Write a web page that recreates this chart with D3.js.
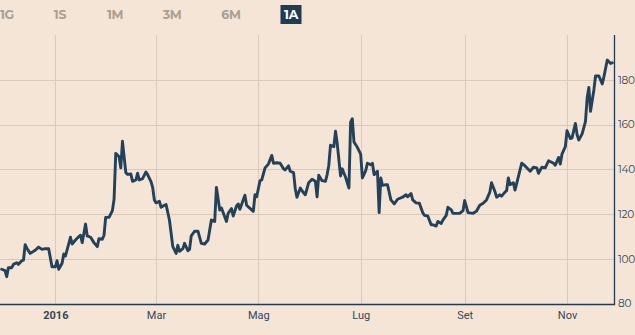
<!DOCTYPE html>
<html>
<head>
<meta charset="utf-8">
<script src="https://cdn.jsdelivr.net/npm/d3@7"></script>
<style>
  html, body { margin: 0; padding: 0; background: #f5e5d6; overflow: hidden; }
  svg { display: block; }
</style>
</head>
<body>
<svg id="chart" width="635" height="335"></svg>
<script>
// Range buttons shown above the chart; the last one is the active range.
const rangeLabels = ["1G", "1S", "1M", "3M", "6M", "1A"];
const activeRange = "1A";

// Price series over the one-year window.
const dates = [
  "2015-11-30","2015-12-02","2015-12-03","2015-12-04","2015-12-06","2015-12-07","2015-12-09","2015-12-10",
  "2015-12-12","2015-12-13","2015-12-14","2015-12-15","2015-12-17","2015-12-20","2015-12-22","2015-12-24",
  "2015-12-26","2015-12-28","2015-12-30","2016-01-01","2016-01-02","2016-01-03","2016-01-05","2016-01-06",
  "2016-01-07","2016-01-10","2016-01-11","2016-01-13","2016-01-15","2016-01-16","2016-01-17","2016-01-19",
  "2016-01-20","2016-01-22","2016-01-24","2016-01-26","2016-01-27","2016-01-29","2016-01-30","2016-01-31",
  "2016-02-02","2016-02-04","2016-02-05","2016-02-06","2016-02-08","2016-02-09","2016-02-10","2016-02-12",
  "2016-02-13","2016-02-15","2016-02-16","2016-02-18","2016-02-19","2016-02-20","2016-02-22","2016-02-24",
  "2016-02-25","2016-02-27","2016-02-28","2016-02-29","2016-03-01","2016-03-03","2016-03-04","2016-03-06",
  "2016-03-07","2016-03-09","2016-03-10","2016-03-11","2016-03-13","2016-03-14","2016-03-15","2016-03-17",
  "2016-03-18","2016-03-20","2016-03-21","2016-03-22","2016-03-24","2016-03-26","2016-03-28","2016-03-30",
  "2016-04-01","2016-04-03","2016-04-05","2016-04-06","2016-04-08","2016-04-09","2016-04-12","2016-04-13",
  "2016-04-15","2016-04-16","2016-04-18","2016-04-19","2016-04-20","2016-04-23","2016-04-24","2016-04-28",
  "2016-04-29","2016-04-30","2016-05-02","2016-05-03","2016-05-05","2016-05-07","2016-05-09","2016-05-10",
  "2016-05-12","2016-05-14","2016-05-16","2016-05-17","2016-05-19","2016-05-20","2016-05-22","2016-05-23",
  "2016-05-24","2016-05-26","2016-05-27","2016-05-29","2016-05-31","2016-06-02","2016-06-04","2016-06-05",
  "2016-06-06","2016-06-08","2016-06-10","2016-06-11","2016-06-12","2016-06-13","2016-06-15","2016-06-16",
  "2016-06-17","2016-06-19","2016-06-20","2016-06-22","2016-06-24","2016-06-25","2016-06-26","2016-06-27",
  "2016-06-29","2016-07-01","2016-07-02","2016-07-04","2016-07-05","2016-07-07","2016-07-08","2016-07-09",
  "2016-07-11","2016-07-12","2016-07-13","2016-07-14","2016-07-16","2016-07-17","2016-07-19","2016-07-21",
  "2016-07-23","2016-07-26","2016-07-28","2016-07-29","2016-07-31","2016-08-01","2016-08-03","2016-08-05",
  "2016-08-07","2016-08-08","2016-08-10","2016-08-12","2016-08-13","2016-08-15","2016-08-16","2016-08-18",
  "2016-08-19","2016-08-21","2016-08-22","2016-08-24","2016-08-25","2016-08-29","2016-08-31","2016-09-01",
  "2016-09-03","2016-09-06","2016-09-08","2016-09-10","2016-09-12","2016-09-14","2016-09-16","2016-09-17",
  "2016-09-19","2016-09-20","2016-09-22","2016-09-23","2016-09-25","2016-09-26","2016-09-27","2016-09-28",
  "2016-09-30","2016-10-01","2016-10-03","2016-10-05","2016-10-07","2016-10-10","2016-10-12","2016-10-14",
  "2016-10-15","2016-10-17","2016-10-19","2016-10-21","2016-10-24","2016-10-25","2016-10-27","2016-10-28",
  "2016-10-29","2016-10-31","2016-11-01","2016-11-03","2016-11-04","2016-11-06","2016-11-07","2016-11-08",
  "2016-11-10","2016-11-12","2016-11-13","2016-11-14","2016-11-15","2016-11-17","2016-11-18","2016-11-20",
  "2016-11-22","2016-11-23","2016-11-25","2016-11-27","2016-11-28"
];
const prices = [
  95.3, 94.7, 92.0, 96.0, 96.0, 97.5, 98.2, 97.5,
  99.1, 99.4, 106.3, 104.7, 102.4, 103.8, 105.2, 104.2,
  104.5, 104.5, 96.4, 96.4, 99.1, 95.3, 98.0, 102.1,
  101.2, 109.6, 106.6, 108.4, 109.9, 110.5, 107.2, 115.5,
  110.2, 109.6, 107.2, 105.4, 109.0, 108.7, 110.5, 118.5,
  118.5, 121.5, 126.6, 147.1, 145.6, 140.6, 152.5, 138.5,
  137.7, 137.9, 134.6, 135.2, 138.2, 135.2, 135.8, 138.8,
  137.6, 134.5, 131.9, 126.3, 125.0, 125.7, 123.0, 123.9,
  124.2, 117.3, 111.4, 105.4, 102.4, 106.0, 103.3, 104.5,
  106.9, 103.6, 104.2, 110.2, 112.3, 112.3, 106.9, 106.6,
  108.4, 117.3, 116.7, 131.9, 121.8, 122.7, 116.7, 120.3,
  122.4, 119.1, 123.6, 124.5, 122.1, 128.4, 123.9, 121.2,
  128.6, 127.7, 134.9, 135.2, 140.6, 142.3, 146.2, 142.7,
  142.9, 142.7, 140.2, 139.7, 141.5, 139.1, 138.5, 131.3,
  127.5, 131.6, 130.4, 128.6, 134.0, 135.5, 134.6, 127.7,
  137.3, 134.9, 134.6, 137.6, 141.8, 150.7, 150.1, 157.0,
  151.6, 137.0, 140.2, 136.4, 131.6, 161.1, 162.6, 152.2,
  149.8, 146.8, 136.1, 139.4, 142.7, 142.0, 142.7, 137.6,
  139.1, 120.6, 136.1, 132.8, 133.1, 133.1, 126.3, 124.5,
  126.6, 127.5, 128.6, 127.7, 129.2, 126.3, 125.0, 124.8,
  120.6, 119.4, 119.1, 115.2, 115.2, 114.6, 116.7, 115.8,
  117.3, 119.4, 123.0, 121.8, 120.3, 120.3, 121.5, 126.0,
  120.6, 120.3, 121.2, 123.9, 124.8, 126.3, 129.8, 134.0,
  130.1, 127.5, 128.6, 128.0, 129.8, 130.4, 136.1, 133.1,
  134.0, 130.7, 136.7, 142.7, 141.5, 139.1, 140.9, 140.6,
  138.2, 140.9, 140.6, 143.8, 142.7, 141.8, 145.3, 142.3,
  146.8, 150.1, 157.2, 153.7, 154.0, 160.5, 155.4, 153.1,
  155.8, 161.4, 171.8, 176.6, 165.9, 175.4, 181.7, 181.7,
  178.1, 181.4, 188.8, 187.3, 187.6
];

// Axis ticks
const yTicks = [80, 100, 120, 140, 160, 180];
const xTickDates = ["2016-01-01", "2016-03-01", "2016-05-01", "2016-07-01", "2016-09-01", "2016-11-01"];
const xTickLabels = ["2016", "Mar", "Mag", "Lug", "Set", "Nov"];
const xDomain = ["2015-11-29", "2016-11-29"];
const yDomain = [80, 200];

const parse = d3.utcParse("%Y-%m-%d");
const series = dates.map((d, i) => ({ date: parse(d), value: prices[i] }));

const W = 635, H = 335;
const plot = { left: 0, right: 614, top: 35, bottom: 303.5 };

const svg = d3.select("#chart");
svg.append("rect").attr("width", W).attr("height", H).attr("fill", "#f5e5d6");

const x = d3.scaleUtc().domain(xDomain.map(parse)).range([plot.left, plot.right]);
const y = d3.scaleLinear().domain(yDomain).range([plot.bottom, plot.top]);

const ink = "#1f3c54";
const grid = "#dccab8";

// Range selector
const btn = svg.append("g").attr("class", "ranges");
const btnX = [7, 60, 115, 172, 231, 291];
rangeLabels.forEach((lab, i) => {
  const active = lab === activeRange;
  if (active) {
    btn.append("rect")
      .attr("x", btnX[i] - 10.5).attr("y", 5)
      .attr("width", 21).attr("height", 19)
      .attr("fill", "#1f3c54");
  }
  btn.append("text")
    .attr("x", btnX[i]).attr("y", 19)
    .attr("text-anchor", "middle")
    .attr("font-family", "Montserrat, 'Open Sans', Lato, sans-serif")
    .attr("font-weight", 700)
    .attr("font-size", 12.5)
    .attr("letter-spacing", "-0.3")
    .attr("fill", active ? "#ffffff" : "#a99f95")
    .text(lab);
});

// Gridlines
const g = svg.append("g");
g.selectAll("line.hgrid")
  .data(yTicks.filter(t => t > yDomain[0]))
  .join("line")
  .attr("class", "hgrid")
  .attr("x1", plot.left).attr("x2", plot.right)
  .attr("y1", d => Math.round(y(d)) + 0.5).attr("y2", d => Math.round(y(d)) + 0.5)
  .attr("stroke", grid).attr("stroke-width", 1);

g.selectAll("line.vgrid")
  .data(xTickDates.map(parse))
  .join("line")
  .attr("class", "vgrid")
  .attr("x1", d => Math.round(x(d)) + 0.5).attr("x2", d => Math.round(x(d)) + 0.5)
  .attr("y1", plot.top).attr("y2", plot.bottom)
  .attr("stroke", grid).attr("stroke-width", 1);

// Price line
const line = d3.line()
  .x(d => x(d.date))
  .y(d => y(d.value))
  .curve(d3.curveLinear);

svg.append("path")
  .datum(series)
  .attr("d", line)
  .attr("fill", "none")
  .attr("stroke", "#234159")
  .attr("stroke-width", 2.9)
  .attr("stroke-linejoin", "round")
  .attr("stroke-linecap", "round");

// Axis frame: bottom and right
svg.append("path")
  .attr("d", `M${plot.left},${Math.round(plot.bottom) + 0.5}H${plot.right + 0.5}V${plot.top}`)
  .attr("fill", "none")
  .attr("stroke", ink)
  .attr("stroke-width", 1.3);

// Right axis labels
const yAxis = d3.axisRight(y).tickValues(yTicks).tickSize(0).tickPadding(0);
const ya = svg.append("g")
  .attr("transform", `translate(${plot.right + 4},0)`)
  .call(yAxis);
ya.select(".domain").remove();
ya.selectAll("text")
  .attr("font-family", "Montserrat, Lato, 'Open Sans', sans-serif")
  .attr("font-size", 10.5)
  .attr("letter-spacing", "-0.2")
  .attr("fill", "#33475b");

// Bottom axis labels
const xAxis = d3.axisBottom(x)
  .tickValues(xTickDates.map(parse))
  .tickFormat((d, i) => xTickLabels[i])
  .tickSize(0).tickPadding(0);
const xa = svg.append("g")
  .attr("transform", `translate(0,${plot.bottom + 8})`)
  .call(xAxis);
xa.select(".domain").remove();
xa.selectAll("text")
  .attr("dy", "0.71em")
  .attr("font-family", "Roboto, 'Open Sans', sans-serif")
  .attr("font-size", 11)
  .attr("fill", "#33475b")
  .attr("font-weight", (d, i) => i === 0 ? 700 : 400);
</script>
</body>
</html>
